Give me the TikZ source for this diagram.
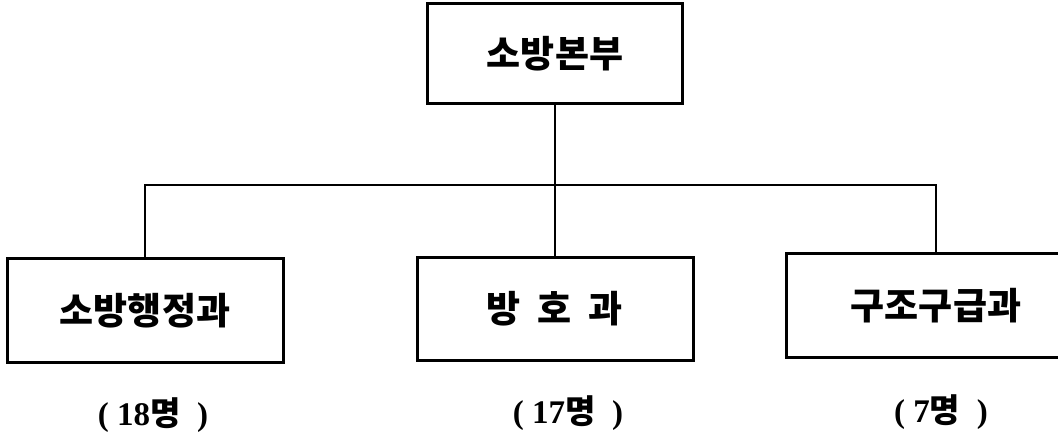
\documentclass[tikz,border=0pt]{standalone}
\usepackage{fontspec}
\newfontfamily\kr{Noto Sans CJK KR}
\newfontfamily\num{Liberation Serif}

\begin{document}
\begin{tikzpicture}[x=1pt,y=1pt,
  bu/.style={draw,line width=3pt,minimum width=276pt,minimum height=104pt,
    font=\kr\bfseries\fontsize{37}{42}\selectfont},
  inwon/.style={font=\num\bfseries\fontsize{33}{38}\selectfont},
  ju/.style={line width=2pt}]
\useasboundingbox (0,0) rectangle (1058,435);
\node[bu,minimum width=255pt,minimum height=100pt] (bonbu) at (555,381) {소방본부};
\node[bu] (haengjeong) at (145,124) {소방행정과};
\node[bu,minimum height=103pt] (bangho) at (555,126) {방 \ 호 \ 과};
\node[bu,minimum width=300pt] (gujo) at (936,129) {구조구급과};
\coordinate (bus) at (555,250);
\draw[ju] (bonbu) -- (bangho);
\draw[ju] (haengjeong) |- (bus) -| (gujo);
\node[inwon] (n1) at (153,20) {( 18{\kr 명} \ )};
\node[inwon] (n2) at (568,22) {( 17{\kr 명} \ )};
\node[inwon] (n3) at (941,23) {( 7{\kr 명} \ )};
\end{tikzpicture}
\end{document}
